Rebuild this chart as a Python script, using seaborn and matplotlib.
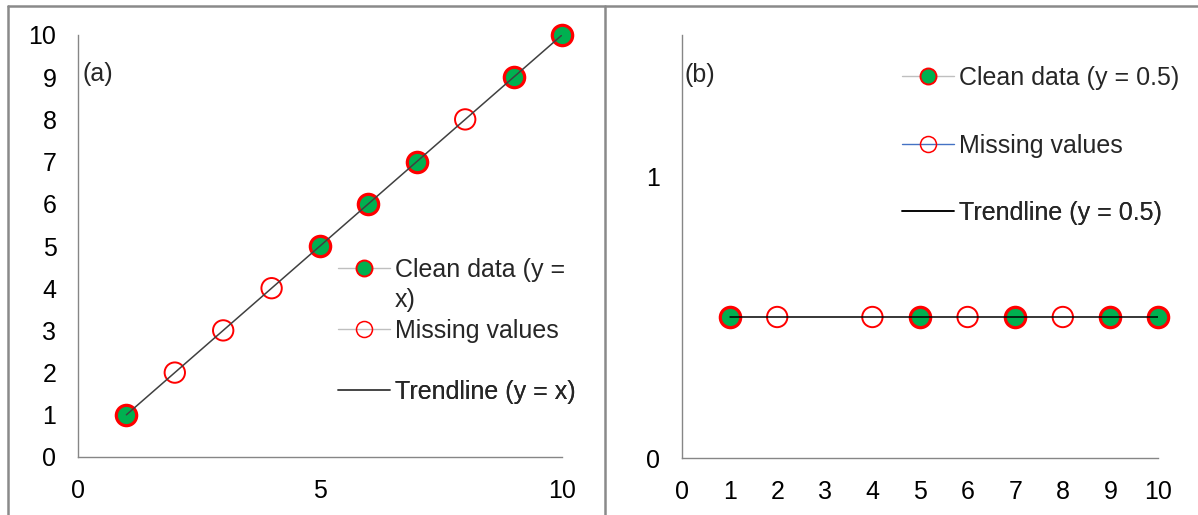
import matplotlib
matplotlib.use("Agg")
import matplotlib.pyplot as plt
import seaborn as sns
import pandas as pd
from matplotlib.lines import Line2D

# ---------------- data ----------------
a_clean_x = [1, 5, 6, 7, 9, 10]
a_clean_y = [1, 5, 6, 7, 9, 10]
a_missing_x = [2, 3, 4, 8]
a_missing_y = [2, 3, 4, 8]
a_trend_x = [1, 10]
a_trend_y = [1, 10]
a_xticks = [0, 5, 10]
a_yticks = [0, 1, 2, 3, 4, 5, 6, 7, 8, 9, 10]

b_clean_x = [1, 5, 7, 9, 10]
b_clean_y = [0.5, 0.5, 0.5, 0.5, 0.5]
b_missing_x = [2, 4, 6, 8]
b_missing_y = [0.5, 0.5, 0.5, 0.5]
b_trend_x = [1, 10]
b_trend_y = [0.5, 0.5]
b_xticks = [0, 1, 2, 3, 4, 5, 6, 7, 8, 9, 10]
b_yticks = [0, 1]

a_labels = ["Clean data (y =", "Missing values", "Trendline (y = x)"]
a_label_cont = "x)"
b_labels = ["Clean data (y = 0.5)", "Missing values", "Trendline (y = 0.5)"]

# ---------------- style ----------------
sns.set_style("white")
plt.rcParams["font.family"] = ["Liberation Sans", "DejaVu Sans"]
FS = 18
FS_PX = FS * 100 / 72
GREEN = "#00B050"
RED = "#FF0000"
AXC = "#868686"

W, H = 1198, 515
fig = plt.figure(figsize=(W / 100, H / 100), dpi=100)


def px_axes(l, t, r, b):
    return fig.add_axes([l / W, 1 - b / H, (r - l) / W, (b - t) / H])


axA = px_axes(78, 35, 562, 457)
axB = px_axes(682, 35, 1158, 458)

MS = 215  # scatter size (pt^2)


def draw_panel(ax, cx, cy, mx, my, tx, ty, trend_color):
    sns.scatterplot(x=cx, y=cy, ax=ax, s=MS, color=GREEN, edgecolor=RED,
                    linewidth=2.3, zorder=3, legend=False, clip_on=False)
    sns.scatterplot(x=mx, y=my, ax=ax, s=MS, color=RED, facecolor="none",
                    edgecolor=RED, linewidth=1.4, zorder=3, legend=False,
                    clip_on=False)
    sns.lineplot(x=tx, y=ty, ax=ax, color=trend_color, linewidth=1.1,
                 zorder=4, legend=False)


draw_panel(axA, a_clean_x, a_clean_y, a_missing_x, a_missing_y,
           a_trend_x, a_trend_y, "#404040")
draw_panel(axB, b_clean_x, b_clean_y, b_missing_x, b_missing_y,
           b_trend_x, b_trend_y, "#000000")

axA.set_xlim(0, 10)
axA.set_ylim(0, 10)
axA.set_xticks(a_xticks)
axA.set_yticks(a_yticks)
axB.set_xlim(0, 10)
axB.set_ylim(0, 1.5)
axB.set_xticks(b_xticks)
axB.set_yticks(b_yticks)

for ax in (axA, axB):
    ax.set_xlabel("")
    ax.set_ylabel("")
    for s in ("top", "right"):
        ax.spines[s].set_visible(False)
    for s in ("left", "bottom"):
        ax.spines[s].set_color(AXC)
        ax.spines[s].set_linewidth(1.0)
    ax.tick_params(axis="both", direction="out", length=5, width=1.0,
                   color=AXC, labelsize=FS, pad=10.5, labelcolor="#000000")
    ax.set_facecolor("none")

# ---------------- legends (one entry each) ----------------
def add_entry(ax, handle, label, x_px, y_px):
    leg = ax.legend([handle], [label], loc="center left",
                    bbox_to_anchor=(x_px / W, 1 - y_px / H),
                    bbox_transform=fig.transFigure, frameon=False,
                    borderpad=0, borderaxespad=0,
                    handlelength=52 / FS_PX, handletextpad=5 / FS_PX,
                    fontsize=FS)
    ax.add_artist(leg)


ms_leg = 11.5
hA1 = Line2D([], [], color="#BFBFBF", lw=1, marker="o", ms=ms_leg,
             mfc=GREEN, mec=RED, mew=1.4)
hA2 = Line2D([], [], color="#BFBFBF", lw=1, marker="o", ms=ms_leg,
             mfc="none", mec=RED, mew=1.1)
hA3 = Line2D([], [], color="#404040", lw=1.1)
add_entry(axA, hA1, a_labels[0], 338, 270)
add_entry(axA, hA2, a_labels[1], 338, 331)
add_entry(axA, hA3, a_labels[2], 338, 392)
fig.text(395 / W, 1 - 300 / H, a_label_cont, fontsize=FS,
         va="center", ha="left")

hB1 = Line2D([], [], color="#BFBFBF", lw=1, marker="o", ms=ms_leg,
             mfc=GREEN, mec=RED, mew=1.4)
hB2 = Line2D([], [], color="#4472C4", lw=1, marker="o", ms=ms_leg,
             mfc="none", mec=RED, mew=1.1)
hB3 = Line2D([], [], color="#000000", lw=1.1)
add_entry(axB, hB1, b_labels[0], 902, 78)
add_entry(axB, hB2, b_labels[1], 902, 146)
add_entry(axB, hB3, b_labels[2], 902, 213)

# ---------------- panel labels ----------------
fig.text(82 / W, 1 - 74 / H, "(a)", fontsize=FS, va="center", ha="left")
fig.text(684 / W, 1 - 75 / H, "(b)", fontsize=FS, va="center", ha="left")

# ---------------- frame lines ----------------
BC = "#8A8A8A"
fig.add_artist(Line2D([8 / W, 1], [1 - 6 / H, 1 - 6 / H],
                      transform=fig.transFigure, color=BC, lw=1.8))
fig.add_artist(Line2D([8 / W, 8 / W], [0, 1 - 6 / H],
                      transform=fig.transFigure, color=BC, lw=1.8))
fig.add_artist(Line2D([605 / W, 605 / W], [0, 1 - 6 / H],
                      transform=fig.transFigure, color=BC, lw=1.8))

fig.savefig("out.png", dpi=100, facecolor="white")
